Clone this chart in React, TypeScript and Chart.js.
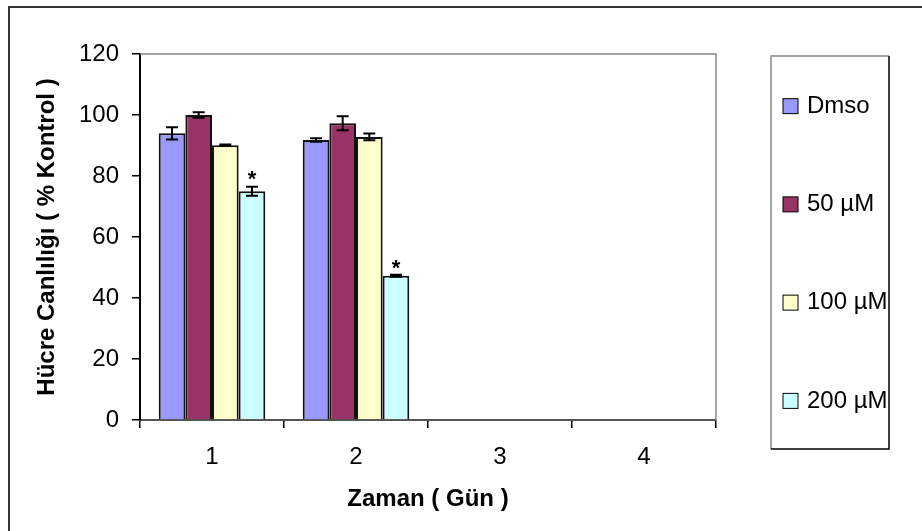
import { useEffect, useRef } from 'react';
import { Chart, registerables } from 'chart.js';

Chart.register(...registerables);

// Days on the x axis
const days = ['1', '2', '3', '4'];

// Series names (legend order)
const seriesNames = ['Dmso', '50 µM', '100 µM', '200 µM'];

// Viability (% of control) per day
const dmso = [94, 91.8, null, null];
const uM50 = [100, 97.3, null, null];
const uM100 = [90.1, 92.8, null, null];
const uM200 = [75, 47.3, null, null];

// Error bar half-lengths
const dmsoErr = [2, 0.55, null, null];
const uM50Err = [0.9, 2.3, null, null];
const uM100Err = [0.2, 1.1, null, null];
const uM200Err = [1.5, 0.3, null, null];

// Significance markers (*) on the 200 µM series
const uM200Sig = [true, true, false, false];

const yTicksMin = 0;
const yTicksMax = 120;
const yTicksStep = 20;

const colors = ['#9999FF', '#993366', '#FFFFCC', '#CCFFFF'];
const FONT = '"Liberation Sans", Arial, Helvetica, sans-serif';

const values = [dmso, uM50, uM100, uM200];
const errors = [dmsoErr, uM50Err, uM100Err, uM200Err];
const sigMarks = [null, null, null, uM200Sig];

// error bars, asterisks, plot/legend frames
const decorPlugin = {
  id: 'decor',
  afterDatasetsDraw(chart: any) {
    const { ctx, chartArea } = chart;
    const y = chart.scales.y;
    ctx.save();

    // plot area frame (top + right)
    ctx.strokeStyle = '#888';
    ctx.lineWidth = 1.5;
    ctx.beginPath();
    ctx.moveTo(chartArea.left, chartArea.top);
    ctx.lineTo(chartArea.right, chartArea.top);
    ctx.lineTo(chartArea.right, chartArea.bottom);
    ctx.stroke();

    // error bars
    ctx.strokeStyle = '#000';
    ctx.lineWidth = 2;
    chart.data.datasets.forEach((ds: any, di: number) => {
      const meta = chart.getDatasetMeta(di);
      meta.data.forEach((bar: any, i: number) => {
        const v = ds.data[i];
        const e = errors[di][i];
        if (v == null || e == null) return;
        const yTop = y.getPixelForValue(v + e);
        const yBot = y.getPixelForValue(v - e);
        const cap = 6;
        ctx.beginPath();
        ctx.moveTo(bar.x, yTop);
        ctx.lineTo(bar.x, yBot);
        ctx.moveTo(bar.x - cap, yTop);
        ctx.lineTo(bar.x + cap, yTop);
        ctx.moveTo(bar.x - cap, yBot);
        ctx.lineTo(bar.x + cap, yBot);
        ctx.stroke();

        const sig = sigMarks[di];
        if (sig && sig[i]) {
          ctx.fillStyle = '#000';
          ctx.font = `bold 22px ${FONT}`;
          ctx.textAlign = 'center';
          ctx.textBaseline = 'alphabetic';
          const centre = yTop - 13;
          ctx.fillText('*', bar.x, centre + 0.58 * 22);
        }
      });
    });

    // legend box
    const lx = 771, lr = 889, lt = 56, lb = 449;
    ctx.lineWidth = 1.5;
    ctx.strokeStyle = '#888';
    ctx.beginPath();
    ctx.moveTo(lx, lb);
    ctx.lineTo(lx, lt);
    ctx.lineTo(lr, lt);
    ctx.stroke();
    ctx.strokeStyle = '#000';
    ctx.beginPath();
    ctx.moveTo(lr, lt);
    ctx.lineTo(lr, lb);
    ctx.lineTo(lx, lb);
    ctx.stroke();

    const gap = (lb - lt) / seriesNames.length;
    ctx.font = `24px ${FONT}`;
    ctx.textAlign = 'left';
    ctx.textBaseline = 'middle';
    seriesNames.forEach((name, i) => {
      const cy = lt + 1 + gap * (i + 0.5);
      ctx.fillStyle = colors[i];
      ctx.fillRect(783, cy - 7.5, 15, 15);
      ctx.strokeStyle = '#000';
      ctx.lineWidth = 1;
      ctx.strokeRect(783, cy - 7.5, 15, 15);
      ctx.fillStyle = '#000';
      ctx.fillText(name, 807, cy);
    });

    // outer chart border (left + top visible)
    ctx.strokeStyle = '#333';
    ctx.lineWidth = 2;
    ctx.beginPath();
    ctx.moveTo(9, chart.height);
    ctx.lineTo(9, 7);
    ctx.lineTo(chart.width, 7);
    ctx.stroke();

    ctx.restore();
  },
};

export default function App() {
  const chartRef = useRef<HTMLCanvasElement>(null);
  const chartInstance = useRef<Chart | null>(null);

  useEffect(() => {
    if (!chartRef.current) return;
    if (chartInstance.current) chartInstance.current.destroy();

    Chart.defaults.font.family = FONT;
    Chart.defaults.color = '#000';

    chartInstance.current = new Chart(chartRef.current, {
      type: 'bar',
      data: {
        labels: days,
        datasets: seriesNames.map((name, i) => ({
          label: name,
          data: values[i],
          backgroundColor: colors[i],
          borderColor: '#111',
          borderWidth: 2,
          categoryPercentage: 0.74,
          barPercentage: 1,
        })),
      },
      options: {
        animation: false,
        responsive: false,
        maintainAspectRatio: false,
        layout: { padding: { top: 54, right: 206, left: 0, bottom: 0 } },
        plugins: {
          legend: { display: false },
          tooltip: { enabled: false },
        },
        scales: {
          x: {
            grid: {
              drawOnChartArea: false,
              tickLength: 8,
              color: '#000',
              lineWidth: 1.5,
            },
            border: { color: '#555', width: 2 },
            ticks: { padding: 15, font: { size: 24 } },
            title: {
              display: true,
              text: 'Zaman ( Gün )',
              font: { size: 24, weight: 'bold' },
              padding: { top: 0, bottom: 17 },
            },
            afterFit: (scale: any) => {
              scale.height = 111;
            },
          },
          y: {
            min: yTicksMin,
            max: yTicksMax,
            ticks: { stepSize: yTicksStep, padding: 13, font: { size: 24 } },
            grid: {
              drawOnChartArea: false,
              tickLength: 8,
              color: '#000',
              lineWidth: 1.5,
            },
            border: { color: '#000', width: 2 },
            title: {
              display: true,
              text: 'Hücre Canlılığı ( % Kontrol )',
              font: { size: 24, weight: 'bold' },
              padding: { top: 33, bottom: 0 },
            },
            afterFit: (scale: any) => {
              scale.width = 140;
            },
          },
        },
      },
      plugins: [decorPlugin],
    });

    return () => {
      if (chartInstance.current) {
        chartInstance.current.destroy();
        chartInstance.current = null;
      }
    };
  }, []);

  return (
    <div style={{ position: 'absolute', left: 0, top: 0 }}>
      <canvas ref={chartRef} width={922} height={531} style={{ display: 'block' }} />
    </div>
  );
}
